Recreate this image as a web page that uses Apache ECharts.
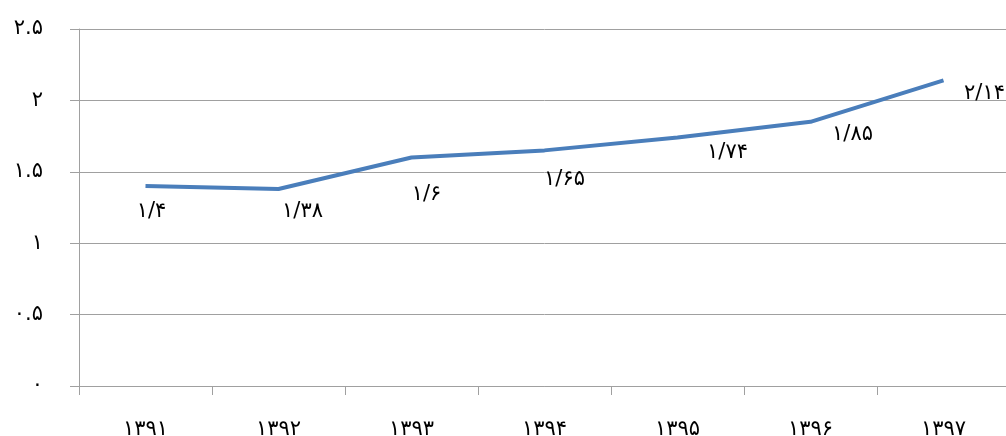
<!DOCTYPE html>
<html>
<head>
<meta charset="utf-8">
<script src="https://cdn.jsdelivr.net/npm/echarts@6/dist/echarts.min.js"></script>
<style>
  html, body { margin: 0; padding: 0; background: #fff; overflow: hidden; }
  /* the plot of the original runs a few pixels past the right edge */
  #chart { width: 1010px; height: 436px; }
</style>
</head>
<body>
<div id="chart"></div>
<script>
// سال‌ها (محور افقی)
var years = ["۱۳۹۱", "۱۳۹۲", "۱۳۹۳", "۱۳۹۴", "۱۳۹۵", "۱۳۹۶", "۱۳۹۷"];
// مقادیر سری
var values = [1.4, 1.38, 1.6, 1.65, 1.74, 1.85, 2.14];
// برچسب‌های محور عمودی
var yTickLabels = ["۰", "۰.۵", "۱", "۱.۵", "۲", "۲.۵"];
// جابجایی برچسب داده‌ها نسبت به نقطه (مثل اکسل)
var labelShift = [[6, 25], [24, 23], [15, 37], [20, 29], [50, 15], [42, 13], [41, 13]];

var fa = "۰۱۲۳۴۵۶۷۸۹";
function toFa(v) {
  return String(v).replace(/[0-9]/g, function (d) { return fa[+d]; }).replace(".", "/");
}

var font = "DejaVu Sans";
var axisGray = "#a0a0a0";

var chart = echarts.init(document.getElementById("chart"));
chart.setOption({
  animation: false,
  grid: { left: 79, right: 0, top: 29, bottom: 50, outerBoundsMode: "none", containLabel: false },
  xAxis: {
    type: "category",
    data: years,
    boundaryGap: true,
    axisLine: { lineStyle: { color: axisGray, width: 1 } },
    axisTick: { show: true, length: 9, lineStyle: { color: axisGray } },
    axisLabel: { color: "#000", fontFamily: font, fontSize: 21, margin: 33 }
  },
  yAxis: {
    type: "value",
    min: 0,
    max: 2.5,
    interval: 0.5,
    axisLine: { show: true, lineStyle: { color: axisGray, width: 1 } },
    axisTick: { show: true, length: 9, lineStyle: { color: axisGray } },
    splitLine: { lineStyle: { color: axisGray, width: 1 } },
    axisLabel: {
      color: "#000",
      fontFamily: font,
      fontSize: 21,
      margin: 36,
      verticalAlign: "middle",
      padding: [0, 0, 6, 0],
      formatter: function (v) { return yTickLabels[Math.round(v / 0.5)]; }
    }
  },
  series: [{
    type: "line",
    data: values.map(function (v, i) {
      return { value: v, label: { offset: labelShift[i] } };
    }),
    symbol: "circle",
    symbolSize: 1,
    showSymbol: true,
    itemStyle: { color: "rgba(0,0,0,0)", borderWidth: 0 },
    lineStyle: { color: "#4a7ebb", width: 4 },
    label: {
      show: true,
      position: "inside",
      color: "#000",
      fontFamily: font,
      fontSize: 21,
      formatter: function (p) { return toFa(p.value); }
    }
  }]
});
</script>
</body>
</html>
